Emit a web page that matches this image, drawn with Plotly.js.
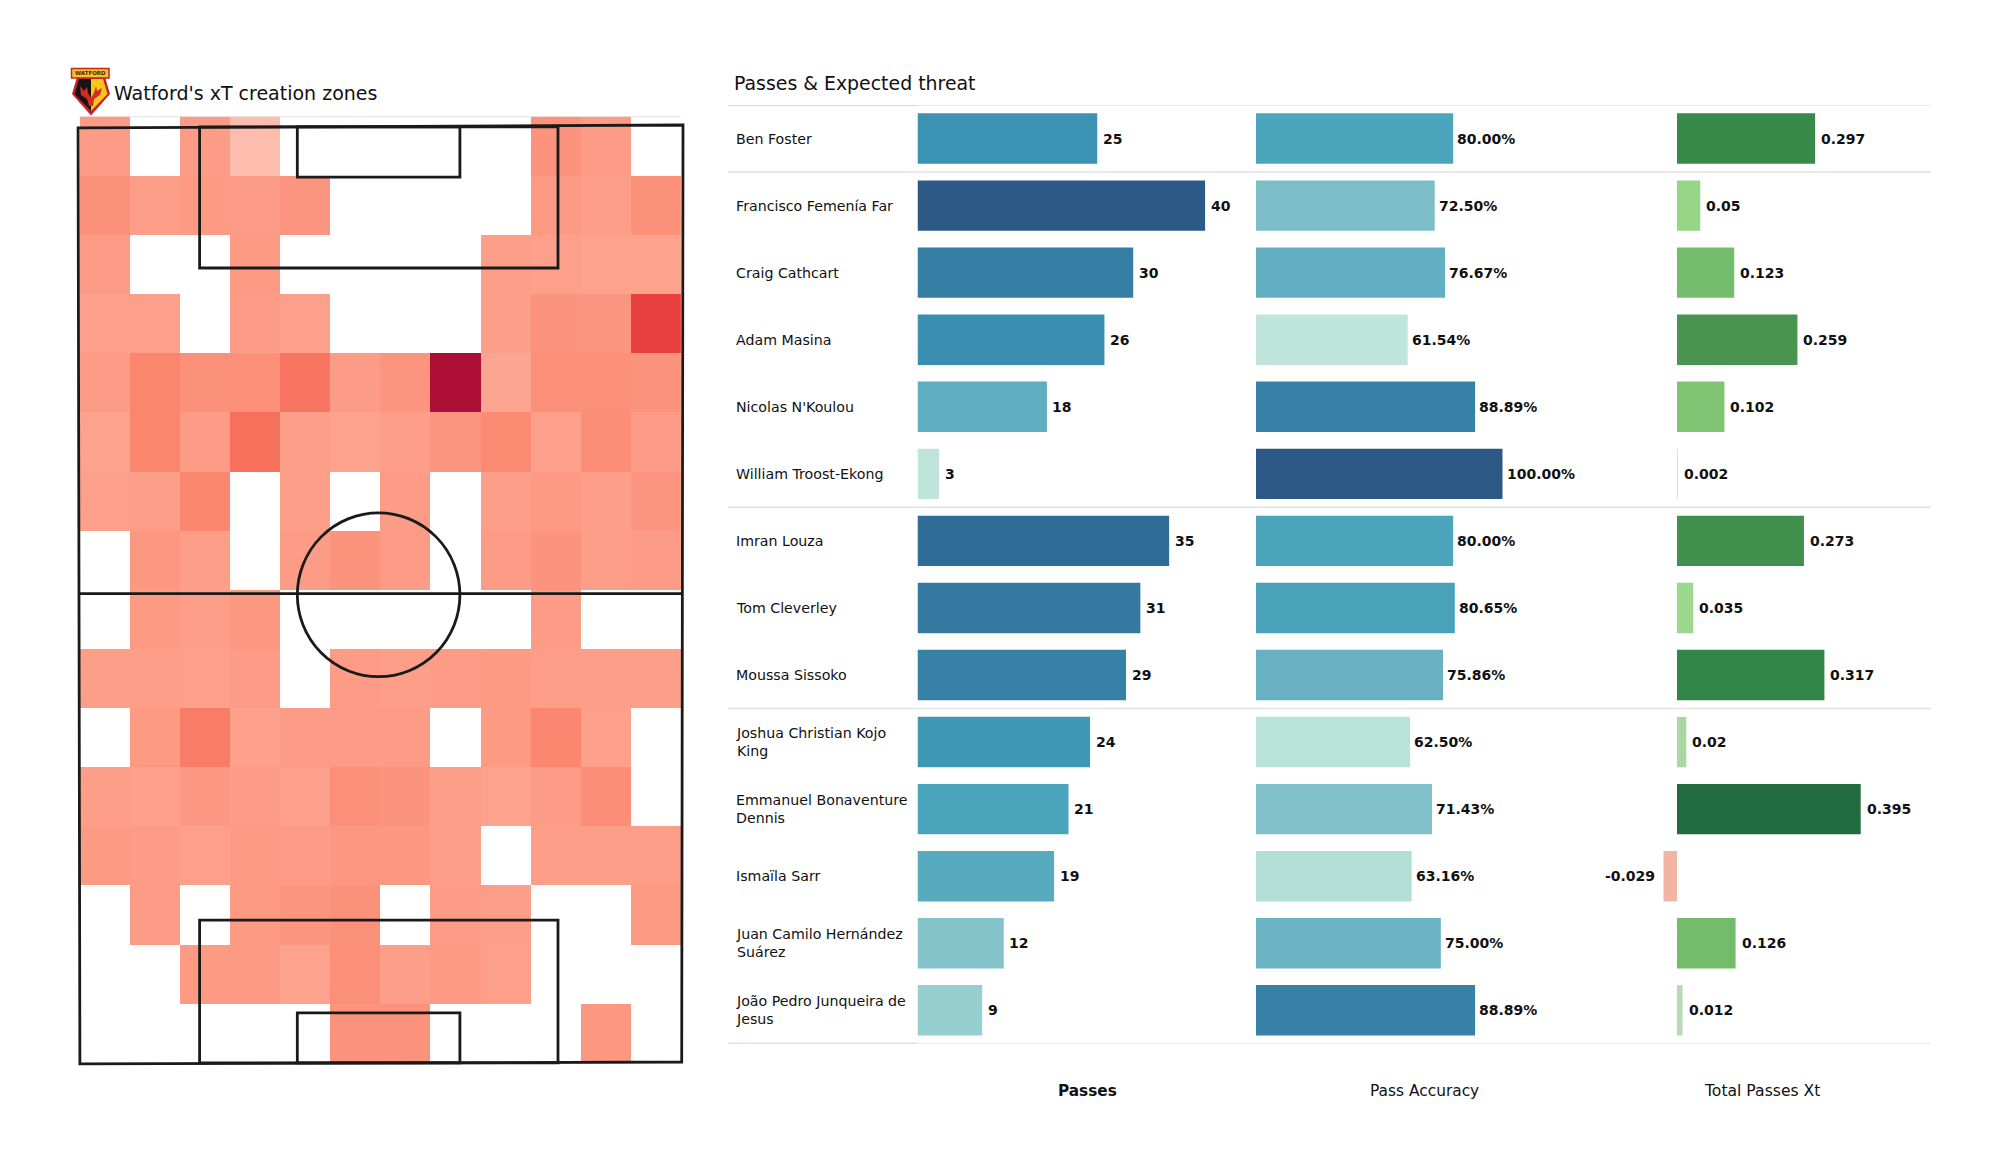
<!DOCTYPE html>
<html><head><meta charset="utf-8">
<script src="https://cdn.plot.ly/plotly-3.0.1.min.js"></script>
<style>html,body{margin:0;padding:0;background:#fff}#chart{width:2000px;height:1175px}</style>
</head><body><div id="chart"></div>
<script>
// ---------- heat-map data (16 rows top to bottom, 12 columns) ----------
const _ = null;
const heatZ = [
 [.13,_,.13,0,_,_,_,_,_,.17,.13,_],
 [.18,.12,.14,.13,.16,_,_,_,_,.14,.12,.18],
 [.13,_,_,.14,_,_,_,_,.12,.11,.1,.1],
 [.11,.11,_,.13,.11,_,_,_,.12,.17,.16,.62],
 [.13,.25,.18,.19,.33,.13,.16,1,.09,.19,.19,.17],
 [.1,.25,.13,.36,.12,.1,.12,.16,.22,.11,.2,.13],
 [.11,.12,.25,_,.12,_,.13,_,.12,.14,.12,.16],
 [_,.15,.12,_,.13,.17,.13,_,.13,.17,.12,.13],
 [_,.14,.12,.15,_,_,_,_,_,.13,_,_],
 [.12,.12,.11,.13,_,.13,.12,.13,.14,.12,.12,.12],
 [_,.14,.3,.11,.13,.13,.13,_,.14,.24,.11,_],
 [.12,.11,.15,.13,.11,.19,.17,.12,.1,.13,.2,_],
 [.14,.13,.11,.14,.13,.15,.15,.12,_,.12,.12,.12],
 [_,.13,_,.14,.16,.18,_,.13,.12,_,_,.14],
 [_,_,.14,.14,.1,.19,.12,.14,.11,_,_,_],
 [_,_,_,_,_,.17,.17,_,_,_,.15,_]
];
const heatScale = [[0,'#fdbdae'],[.1,'#fca28d'],[.18,'#fc917a'],[.28,'#fa8169'],[.36,'#f6705c'],[.62,'#e8403f'],[1,'#ae0f35']];

// ---------- pitch geometry (pitch units) ----------
const pitchX = [0.01,80,79.83,0.25];
const pitchY = [0.14,-0.23,119.9,120.15];
const penX = [16.08,63.47], sixX = [29,50.5];
const penD = [18.1,101.7], sixD = [6.46,113.6];
const halfway = 59.85, centre = [39.75,60], radius = [10.75,10.5];
const heatX0 = 0.25, heatDX = 6.618, heatY0 = -1.28, heatDY = 7.577;

// ---------- table data ----------
const players = ['Ben Foster','Francisco Femenía Far','Craig Cathcart','Adam Masina',"Nicolas N'Koulou",'William Troost-Ekong','Imran Louza','Tom Cleverley','Moussa Sissoko','Joshua Christian Kojo<br>King','Emmanuel Bonaventure<br>Dennis','Ismaïla Sarr','Juan Camilo Hernández<br>Suárez','João Pedro Junqueira de<br>Jesus'];
const passes = [25,40,30,26,18,3,35,31,29,24,21,19,12,9];
const accuracy = [80,72.5,76.67,61.54,88.89,100,80,80.65,75.86,62.5,71.43,63.16,75,88.89];
const xt = [0.297,0.05,0.123,0.259,0.102,0.002,0.273,0.035,0.317,0.02,0.395,-0.029,0.126,0.012];
const columnTitles = ['Passes','Pass Accuracy','Total Passes Xt'];
const groupBreaks = [0,1,6,9,14];
const tealScale = [[0,'#bfe5da'],[.16,'#96cfd0'],[.285,'#7cbdc8'],[.405,'#5fadc0'],[.48,'#4ba5bc'],[.59,'#3b93b2'],[.73,'#367da4'],[.865,'#2f6d97'],[1,'#2c5985']];
const xtStops = [-0.029,0.002,0.012,0.02,0.035,0.05,0.102,0.126,0.259,0.297,0.317,0.395];
const xtColors = ['#f3b5a3','#dcdcdc','#b9dbb3','#a9d8a1','#9dd88f','#95d585','#7fc573','#72bc6b','#49944f','#378a49','#2f8647','#226b3f'];
const xtScale = xtStops.map((v,i)=>[(v-xtStops[0])/(xtStops[xtStops.length-1]-xtStops[0]),xtColors[i]]);

// ---------- layout helpers (page pixels) ----------
const W=2000,H=1175;
const px=x=>x/W, py=y=>1-y/H;
const FONT='DejaVu Sans';
const INK='#111111';
const dom=(a,b)=>[px(a),px(b)];
const domY=(top,bot)=>[py(bot),py(top)];
const barFont={family:FONT,size:14,color:INK,weight:700};

const hidden={visible:false,fixedrange:true};
const line={color:'#1a1a1a',width:2.8};
const path=pts=>'M'+pts.map(p=>p[0]+','+p[1]).join(' L')+' Z';
const ppath=pts=>path(pts.map(p=>[px(p[0]),py(p[1])]));
const pitchShape=(o)=>Object.assign({xref:'x',yref:'y',line:line,fillcolor:'rgba(0,0,0,0)'},o);

const shapes=[
 {type:'line',xref:'x',yref:'y',x0:heatX0,x1:79.67,y0:heatY0,y1:heatY0,line:{color:'#ececec',width:1.5},layer:'below'},
 pitchShape({type:'path',path:path(pitchX.map((x,i)=>[x,pitchY[i]]))}),
 pitchShape({type:'rect',x0:penX[0],x1:penX[1],y0:0,y1:penD[0]}),
 pitchShape({type:'rect',x0:penX[0],x1:penX[1],y0:penD[1],y1:120}),
 pitchShape({type:'rect',x0:sixX[0],x1:sixX[1],y0:0,y1:sixD[0]}),
 pitchShape({type:'rect',x0:sixX[0],x1:sixX[1],y0:sixD[1],y1:120}),
 pitchShape({type:'line',x0:0.1,x1:80,y0:halfway,y1:halfway}),
 pitchShape({type:'circle',x0:centre[0]-radius[0],x1:centre[0]+radius[0],y0:centre[1]-radius[1],y1:centre[1]+radius[1]}),
 // crest
 {type:'path',xref:'paper',yref:'paper',path:ppath([[77,77],[105,77],[110,94],[91,115.5],[72,94]]),fillcolor:'#c8202a',line:{width:0}},
 {type:'path',xref:'paper',yref:'paper',path:ppath([[79,79],[91,79],[91,111],[74.5,94]]),fillcolor:'#141414',line:{width:0}},
 {type:'path',xref:'paper',yref:'paper',path:ppath([[91,79],[103,79],[107.5,94],[91,111]]),fillcolor:'#f7c51e',line:{width:0}},
 {type:'path',xref:'paper',yref:'paper',path:ppath([[80,86],[84,91],[87,87],[88,93],[91,98],[94,93],[96,86],[97,91],[102,88],[100,95],[94,99],[93,106],[89,106],[87,99],[81,95]]),fillcolor:'#d42a20',line:{width:0}},
 {type:'rect',xref:'paper',yref:'paper',x0:px(71.5),x1:px(109),y0:py(78),y1:py(68.5),fillcolor:'#f2c22e',line:{color:'#bf2a1e',width:1.5}}
];
// table separators
groupBreaks.forEach(k=>shapes.push({type:'line',xref:'paper',yref:'y2',x0:px(728),x1:px(1931),y0:k-.5,y1:k-.5,line:{color:'#e2e2e2',width:1.5}}));
[groupBreaks[0],groupBreaks[4]].forEach(k=>shapes.push({type:'line',xref:'paper',yref:'y2',x0:px(728),x1:px(917.5),y0:k-.5,y1:k-.5,line:{color:'#d8d8d8',width:2}}));

const ann=(text,x,y,o)=>Object.assign({text:text,xref:'paper',yref:'paper',x:px(x),y:py(y),showarrow:false,xanchor:'left',yanchor:'middle',font:{family:FONT,size:14,color:INK}},o||{});
const annotations=[
 ann("Watford's xT creation zones",112,93,{font:{family:FONT,size:19,color:INK}}),
 ann('Passes &amp; Expected threat',732,83,{font:{family:FONT,size:18.9,color:INK}}),
 ann('WATFORD',90.3,73.3,{xanchor:'center',font:{family:FONT,size:5.5,color:'#5a1a10',weight:700}}),
 ann(columnTitles[0],1087,1090.5,{xanchor:'center',font:{family:FONT,size:15.3,color:INK,weight:700}}),
 ann(columnTitles[1],1424,1090.5,{xanchor:'center',font:{family:FONT,size:15.4,color:INK}}),
 ann(columnTitles[2],1762,1090.5,{xanchor:'center',font:{family:FONT,size:15.6,color:INK}})
];
players.forEach((p,i)=>annotations.push({text:p,xref:'paper',yref:'y2',x:px(733.5),y:i,showarrow:false,xanchor:'left',align:'left',yanchor:'middle',font:{family:FONT,size:14.2,color:INK}}));

const barLabels=(vals,labels,axis,shift)=>vals.forEach((v,i)=>annotations.push({text:labels[i],xref:axis,yref:'y2',x:v,y:i,showarrow:false,
 xanchor:v<0?'right':'left',xshift:v<0?-6.5:shift,yanchor:'middle',font:barFont}));
barLabels(passes,passes.map(String),'x2',3.5);
barLabels(accuracy,accuracy.map(v=>v.toFixed(2)+'%'),'x3',2);
barLabels(xt,xt.map(String),'x4',4);

const barTrace=(vals,xaxis,extra)=>({type:'bar',orientation:'h',x:vals,y:players,xaxis:xaxis,yaxis:'y2',hoverinfo:'skip',
 marker:Object.assign({line:{width:0}},extra)});

const traces=[
 {type:'heatmap',z:heatZ,x0:heatX0+heatDX/2,dx:heatDX,y0:heatY0+heatDY/2,dy:heatDY,colorscale:heatScale,zmin:0,zmax:1,showscale:false,hoverinfo:'skip',xaxis:'x',yaxis:'y'},
 barTrace(passes,'x2',{color:passes,colorscale:tealScale,cmin:Math.min(...passes),cmax:Math.max(...passes)}),
 barTrace(accuracy,'x3',{color:accuracy,colorscale:tealScale,cmin:Math.min(...accuracy),cmax:Math.max(...accuracy)}),
 barTrace(xt,'x4',{color:xt,colorscale:xtScale,cmin:xtStops[0],cmax:xtStops[xtStops.length-1]})
];

const layout={width:W,height:H,margin:{l:0,r:0,t:0,b:0},paper_bgcolor:'#fff',plot_bgcolor:'rgba(0,0,0,0)',showlegend:false,barmode:'overlay',bargap:.2484,
 font:{family:FONT},
 xaxis:Object.assign({},hidden,{domain:dom(62.875,698.125),range:[-2,82]}),
 yaxis:Object.assign({},hidden,{domain:domY(111.2,1078.4),range:[122,-2]}),
 xaxis2:Object.assign({},hidden,{domain:dom(917.5,1240),range:[0,322.5/7.19],anchor:'y2'}),
 xaxis3:Object.assign({},hidden,{domain:dom(1255.9,1640),range:[0,384.1/2.466],anchor:'y2'}),
 xaxis4:Object.assign({},hidden,{domain:dom(1640,1931),range:[-37/465,254/465],anchor:'y2'}),
 yaxis2:Object.assign({},hidden,{domain:domY(105,1043.84),type:'category',categoryorder:'array',categoryarray:players,range:[13.5,-.5],anchor:'x2'}),
 shapes:shapes,annotations:annotations};

Plotly.newPlot('chart',traces,layout,{displayModeBar:false,staticPlot:true});
</script></body></html>
